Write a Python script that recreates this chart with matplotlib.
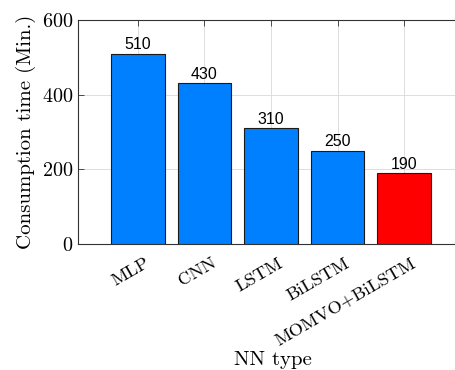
import matplotlib
matplotlib.use("Agg")
import matplotlib.pyplot as plt
import matplotlib.transforms as mtransforms
import numpy as np

# consumption time of each network type
nn_types = ["MLP", "CNN", "LSTM", "BiLSTM", "MOMVO+BiLSTM"]
times = [510, 430, 310, 250, 190]
bar_colors = ["#0080ff", "#0080ff", "#0080ff", "#0080ff", "#ff0000"]

plt.rcParams["font.family"] = "serif"
plt.rcParams["font.serif"] = ["cmr10"]
plt.rcParams["axes.formatter.use_mathtext"] = True

fig = plt.figure(figsize=(4.55, 3.7), dpi=100)
ax = fig.add_axes([78 / 455, 126 / 370, 386 / 455, 224 / 370])

x = np.arange(1, len(nn_types) + 1)
bars = ax.bar(x, times, width=0.8, color=bar_colors, edgecolor="#1a1a1a",
              linewidth=0.8, zorder=3)

for b, t in zip(bars, times):
    ax.text(b.get_x() + b.get_width() / 2, t + 4, str(t), ha="center",
            va="bottom", fontsize=11.5, family="Liberation Sans", zorder=4)

ax.set_xlim(0.1, 5.9)
ax.set_ylim(0, 600)
ax.set_yticks([0, 200, 400, 600])
ax.set_xticks(x)
ax.tick_params(axis="x", pad=8)
ax.tick_params(axis="y", labelsize=14.5)
ax.tick_params(direction="in", top=True, right=True, length=4, width=0.6,
               color="#333333")
ax.set_xticklabels(nn_types, rotation=30, ha="right", rotation_mode="anchor",
                   fontsize=13.2)
# nudge the rotated labels a little right
shift = mtransforms.ScaledTranslation(7 / 100, 0, fig.dpi_scale_trans)
for lbl in ax.get_xticklabels():
    lbl.set_transform(lbl.get_transform() + shift)

ax.grid(True, color="#dddddd", linewidth=0.7, zorder=0)
ax.set_axisbelow(True)
for s in ax.spines.values():
    s.set_linewidth(0.8)
    s.set_color("#333333")

ax.set_xlabel("NN type", fontsize=15)
ax.xaxis.set_label_coords(0.505, -0.477)
ax.set_ylabel("Consumption time (Min.)", fontsize=15)

fig.savefig("out.png", dpi=100)
